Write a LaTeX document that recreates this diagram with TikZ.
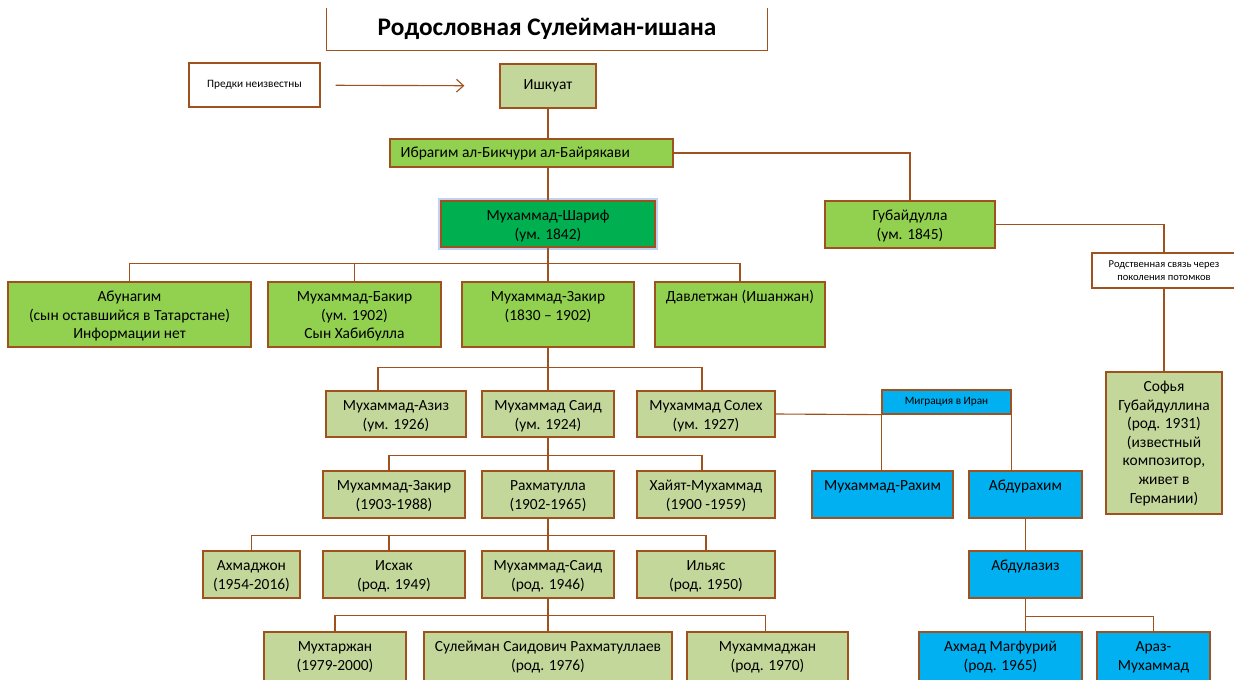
\documentclass[tikz,border=0pt]{standalone}
\usepackage{fontspec}
\setmainfont{Carlito}
\usetikzlibrary{arrows.meta,shadows}

\definecolor{brd}{RGB}{160,82,30}
\definecolor{lgreen}{RGB}{196,215,155}
\definecolor{mgreen}{RGB}{146,208,80}
\definecolor{dgreen}{RGB}{0,176,80}
\definecolor{sky}{RGB}{0,176,240}
\definecolor{glow}{RGB}{165,190,240}

\tikzset{
  box/.style 2 args={draw=brd, line width=0.9pt, inner sep=0pt,
    minimum width=#1*0.025cm, minimum height=#2*0.025cm,
    drop shadow={shadow xshift=0.7pt, shadow yshift=-0.7pt, opacity=0.25}},
  txt/.style={label={[anchor=north, align=center, inner sep=0pt, yshift=-5pt]north:{\strut#1}}},
  ltxt/.style={label={[anchor=west, inner sep=0pt, xshift=0.275cm]west:{#1}}},
  glowbox/.style={preaction={draw=glow, line width=4pt, opacity=0.7}},
  link/.style={draw=brd, line width=0.8pt},
  small/.style={font=\fontsize{7.5}{9.5}\selectfont, align=center},
}

\begin{document}
\begin{tikzpicture}[x=0.025cm, y=-0.025cm, font=\fontsize{11}{13.2}\selectfont]
\useasboundingbox (0,0) rectangle (1234,679);
\clip (0,0) rectangle (1234,679);

% title
\node[minimum width=440*0.025cm, minimum height=42*0.025cm, font=\fontsize{18}{22}\selectfont\bfseries] (title) at (547,29) {Родословная Сулейман-ишана};
\draw[draw=brd, line width=0.9pt] (title.north west) |- (title.south east) -- (title.north east);

% ancestors
\node[box={131}{44}, fill=white, small, font=\fontsize{8}{9.5}\selectfont] (pred) at (254.5,85) {Предки неизвестны};
\node[box={96}{44}, fill=lgreen] (ishk) at (548,86) {Ишкуат};
\node[box={283}{28}, fill=mgreen, ltxt={Ибрагим ал-Бикчури ал-Байрякави}] (ibr) at (531.5,153) {};
\node[box={214}{46}, fill=dgreen, glowbox, txt={Мухаммад-Шариф\\(ум. 1842)}] (sharif) at (548,224) {};
\node[box={170}{47}, fill=mgreen, txt={Губайдулла\\(ум. 1845)}] (gub) at (910,224.5) {};
\node[box={144}{35}, fill=white, small] (rodst) at (1164,270.5) {Родственная связь через\\поколения потомков};
\node[box={116}{142}, fill=lgreen, txt={Софья\\Губайдуллина\\(род. 1931)\\(известный\\композитор,\\живет в\\Германии)}] (sofya) at (1164,443) {};

% sons of Muhammad-Sharif
\node[box={243}{65}, fill=mgreen, txt={Абунагим\\(сын оставшийся в Татарстане)\\Информации нет}] (abun) at (129.5,314.5) {};
\node[box={173}{65}, fill=mgreen, txt={Мухаммад-Бакир\\(ум. 1902)\\Сын Хабибулла}] (bakir) at (354.5,314.5) {};
\node[box={172}{65}, fill=mgreen, txt={Мухаммад-Закир\\(1830 – 1902)}] (zakir) at (548,314.5) {};
\node[box={170}{65}, fill=mgreen, txt={Давлетжан (Ишанжан)}] (davlet) at (740,314.5) {};

% third row
\node[box={140}{46}, fill=lgreen, txt={Мухаммад-Азиз\\(ум. 1926)}] (aziz) at (396,414) {};
\node[box={132}{46}, fill=lgreen, txt={Мухаммад Саид\\(ум. 1924)}] (said) at (548,414) {};
\node[box={138}{46}, fill=lgreen, txt={Мухаммад Солех\\(ум. 1927)}] (soleh) at (706,414) {};
\node[box={129}{24}, fill=sky, small, font=\fontsize{8}{9.5}\selectfont] (migr) at (946.5,402) {Миграция в Иран};

% fourth row
\node[box={142}{47}, fill=lgreen, txt={Мухаммад-Закир\\(1903-1988)}] (zakir2) at (394,494.5) {};
\node[box={132}{47}, fill=lgreen, txt={Рахматулла\\(1902-1965)}] (rakhm) at (548,494.5) {};
\node[box={138}{47}, fill=lgreen, txt={Хайят-Мухаммад\\(1900 -1959)}] (khayat) at (706,494.5) {};
\node[box={141}{47}, fill=sky, txt={Мухаммад-Рахим}] (rakhim) at (882.5,494.5) {};
\node[box={113}{47}, fill=sky, txt={Абдурахим}] (abdr) at (1025.5,494.5) {};

% fifth row
\node[box={97}{47}, fill=lgreen, txt={Ахмаджон\\(1954-2016)}] (akhm) at (251.5,574.5) {};
\node[box={142}{47}, fill=lgreen, txt={Исхак\\(род. 1949)}] (iskhak) at (394,574.5) {};
\node[box={132}{47}, fill=lgreen, txt={Мухаммад-Саид\\(род. 1946)}] (msaid) at (548,574.5) {};
\node[box={138}{47}, fill=lgreen, txt={Ильяс\\(род. 1950)}] (ilyas) at (706,574.5) {};
\node[box={113}{47}, fill=sky, txt={Абдулазиз}] (abdaz) at (1025.5,574.5) {};

% sixth row
\node[box={142}{52}, fill=lgreen, txt={Мухтаржан\\(1979-2000)}] (mukht) at (335,658) {};
\node[box={248}{52}, fill=lgreen, txt={Сулейман Саидович Рахматуллаев\\(род. 1976)}] (suleym) at (548,658) {};
\node[box={161}{52}, fill=lgreen, txt={Мухаммаджан\\(род. 1970)}] (mjan) at (767.5,658) {};
\node[box={163}{52}, fill=sky, txt={Ахмад Магфурий\\(род. 1965)}] (magf) at (1000.5,658) {};
\node[box={113}{52}, fill=sky, txt={Араз-\\Мухаммад}] (araz) at (1153.5,658) {};

% connectors
\draw[link, -{Straight Barb[length=5pt,width=9pt]}, shorten <=0.375cm, shorten >=0.875cm] (pred) -- (ishk);
\draw[link] (ishk.south) -- (ishk.south |- ibr.north);
\draw[link] (ibr.south -| sharif.north) -- (sharif.north);
\draw[link] (ibr.east) -| (gub.north);
\draw[link] (gub.east) -| (rodst.north);
\draw[link] (rodst.south) -- (sofya.north);

\foreach \c in {abun,bakir,zakir,davlet}
  \draw[link] (sharif.south) -- ++(0,16) -| (\c.north);

\draw[link] (zakir.south) -- ++(0,20) -| ([xshift=-0.45cm]aziz.north);
\draw[link] (zakir.south) -- (said.north);
\draw[link] (zakir.south) -- ++(0,20) -| ([xshift=-0.1cm]soleh.north);

\draw[link] (soleh.east) -- (migr.south west);
\draw[link] (migr.south west) -- (migr.south west |- rakhim.north);
\draw[link] (migr.south east) -- (migr.south east |- abdr.north);
\draw[link] (abdr.south) -- (abdaz.north);
\draw[link] (abdaz.south) -- (abdaz.south |- magf.north);
\draw[link] (abdaz.south) -- ++(0,18) -| (araz.north);

\draw[link] (said.south) -- ++(0,18) -| ([xshift=-0.125cm]zakir2.north);
\draw[link] (said.south) -- (rakhm.north);
\draw[link] (said.south) -- ++(0,18) -| ([xshift=-0.1cm]khayat.north);

\draw[link] (rakhm.south) -- ++(0,17) -| (akhm.north);
\draw[link] (rakhm.south) -- ++(0,17) -| ([xshift=-0.125cm]iskhak.north);
\draw[link] (rakhm.south) -- (msaid.north);
\draw[link] (rakhm.south) -- ++(0,17) -| (ilyas.north);

\draw[link] (msaid.south) -- ++(0,17) -| (mukht.north);
\draw[link] (msaid.south) -- (suleym.north);
\draw[link] (msaid.south) -- ++(0,17) -| ([xshift=-0.06cm]mjan.north);
\end{tikzpicture}
\end{document}
